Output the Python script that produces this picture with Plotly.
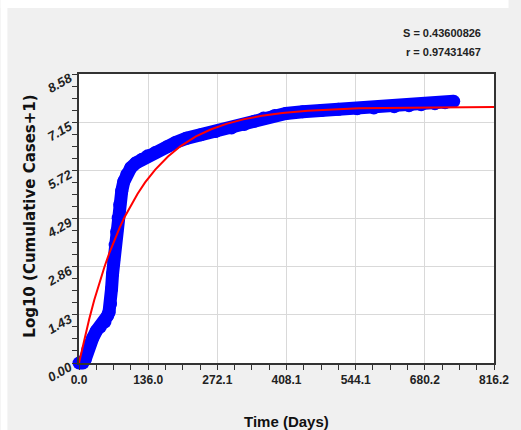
import plotly.graph_objects as go

# Observed data (blue) - Log10(Cumulative cases + 1) vs day
obs_days = [0, 4, 8, 12, 17, 22, 27, 34, 42, 51, 56, 59, 62, 64, 66, 68, 71, 74, 77, 80, 84, 88, 94,
            102, 112, 124, 135, 150, 173, 190, 211, 240, 268, 300, 325, 345, 363, 385, 407, 440,
            477, 510, 547, 580, 620, 649, 673, 700, 720, 737]
obs_vals = [0.0, 0.0, 0.0, 0.1, 0.39, 0.58, 0.74, 0.95, 1.07, 1.22, 1.40, 1.51, 1.75, 2.2, 2.65, 3.05,
            3.5, 3.9, 4.3, 4.7, 5.1, 5.38, 5.6, 5.8, 5.94, 6.05, 6.15, 6.25, 6.42, 6.55, 6.67, 6.78,
            6.87, 6.98, 7.08, 7.18, 7.27, 7.35, 7.41, 7.46, 7.50, 7.53, 7.55, 7.57, 7.61, 7.64,
            7.67, 7.70, 7.73, 7.77]

# Fitted curve (red)
fit_days = [0, 10, 20, 30, 40, 50, 60, 70, 80, 90, 100, 115, 130, 150, 175, 200, 230, 260, 290,
            325, 360, 400, 450, 500, 550, 650, 816.2]
fit_vals = [0.0, 0.68, 1.30, 1.87, 2.38, 2.85, 3.28, 3.66, 4.02, 4.34, 4.63, 5.02, 5.36, 5.74, 6.13,
            6.44, 6.73, 6.94, 7.10, 7.24, 7.34, 7.42, 7.49, 7.53, 7.56, 7.58, 7.60]

x_tickvals = [0, 136.0333, 272.0667, 408.1, 544.1333, 680.1667, 816.2]
x_ticktext = ["0.0", "136.0", "272.1", "408.1", "544.1", "680.2", "816.2"]
y_tickvals = [0, 1.43, 2.86, 4.29, 5.72, 7.15, 8.58]
y_ticktext = ["0.00", "1.43", "2.86", "4.29", "5.72", "7.15", "8.58"]

stat_lines = ["S = 0.43600826", "r = 0.97431467"]
x_title = "Time (Days)"
y_title = "Log10 (Cumulative Cases+1)"

sans = "Liberation Sans, Arial, sans-serif"

fig = go.Figure()
fig.add_trace(go.Scatter(
    x=obs_days, y=obs_vals, mode="lines+markers",
    line=dict(color="#0000ff", width=13),
    marker=dict(color="#0000ff", size=13),
    cliponaxis=False, showlegend=False, hoverinfo="skip"))
fig.add_trace(go.Scatter(
    x=fit_days, y=fit_vals, mode="lines",
    line=dict(color="#ff0000", width=2),
    showlegend=False, hoverinfo="skip"))

minor_x = [i * 816.2 / 24 for i in range(25)]
minor_y = [i * 8.58 / 24 for i in range(25)]

fig.update_xaxes(
    range=[0, 816.2], tickmode="array", tickvals=x_tickvals, ticktext=x_ticktext,
    showgrid=True, gridcolor="#d9d9d9", gridwidth=1, zeroline=False,
    showline=True, linecolor="#333333", linewidth=1.5, mirror=True,
    ticks="outside", ticklen=5, tickcolor="#333333", tickwidth=1,
    ticklabeloverflow="allow",
    minor=dict(tickmode="array", tickvals=minor_x, ticks="outside", ticklen=5,
               tickcolor="#333333", showgrid=False),
    tickfont=dict(family=sans, size=12, color="#222222", weight="bold"))
fig.update_yaxes(
    range=[0, 8.58], tickmode="array", tickvals=y_tickvals, ticktext=y_ticktext,
    showgrid=True, gridcolor="#d9d9d9", gridwidth=1, zeroline=False,
    showline=True, linecolor="#333333", linewidth=1.5, mirror=True,
    ticks="outside", ticklen=5, tickcolor="#333333", tickwidth=1, tickangle=-30,
    ticklabeloverflow="allow", ticklabelshift=3,
    minor=dict(tickmode="array", tickvals=minor_y, ticks="outside", ticklen=5,
               tickcolor="#333333", showgrid=False),
    tickfont=dict(family=sans, size=13, color="#222222", weight="bold", style="italic"))

L, R, T, B = 79, 13, 74, 67
W, H = 521, 430
pw, ph = W - L - R, H - T - B

def px2x(px):
    return (px - L) / pw

def py2y(py):
    return (H - B - py) / ph

fig.update_layout(
    width=W, height=H, margin=dict(l=L, r=R, t=T, b=B, pad=0),
    paper_bgcolor="#f0f0f0", plot_bgcolor="#ffffff",
    shapes=[
        dict(type="rect", xref="paper", yref="paper", x0=px2x(-2), x1=px2x(W + 2),
             y0=py2y(8), y1=py2y(-2), fillcolor="#ffffff", line=dict(width=0), layer="below"),
        dict(type="rect", xref="paper", yref="paper", x0=px2x(-2), x1=px2x(5),
             y0=py2y(H + 2), y1=py2y(-2), fillcolor="#ffffff", line=dict(width=0), layer="below"),
    ],
    annotations=[
        dict(text=stat_lines[0], xref="paper", yref="paper", x=px2x(497), y=py2y(33),
             xanchor="right", yanchor="middle", showarrow=False,
             font=dict(family=sans, size=11, color="#222222", weight="bold")),
        dict(text=stat_lines[1], xref="paper", yref="paper", x=px2x(497), y=py2y(52),
             xanchor="right", yanchor="middle", showarrow=False,
             font=dict(family=sans, size=11, color="#222222", weight="bold")),
        dict(text=x_title, xref="paper", yref="paper", x=px2x(293), y=py2y(421),
             xanchor="center", yanchor="middle", showarrow=False,
             font=dict(family=sans, size=15, color="#111111", weight="bold")),
        dict(text=y_title, xref="paper", yref="paper", x=px2x(28), y=py2y(216),
             xanchor="center", yanchor="middle", showarrow=False, textangle=-90,
             font=dict(family="DejaVu Sans", size=15, color="#111111", weight="bold")),
    ],
)

fig.write_html("out.html")
